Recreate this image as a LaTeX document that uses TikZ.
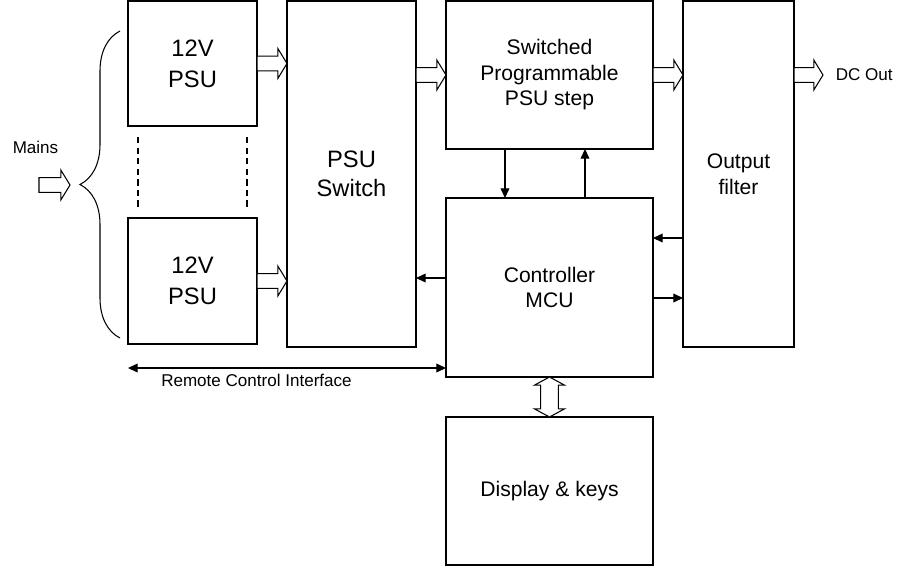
\documentclass[tikz,border=0pt]{standalone}
\usepackage{fontspec}
\setmainfont{Liberation Sans}
\usetikzlibrary{arrows.meta, positioning, calc, decorations.pathreplacing}

\newcommand{\fatarrow}[2]{%
  \draw[fatline] let \p1=(#1), \p2=(#2) in
    (\x1,\y1+4.2pt) -- (\x2-5.2pt,\y1+4.2pt) -- (\x2-5.2pt,\y1+8.5pt) -- (\x2,\y1)
    -- (\x2-5.2pt,\y1-8.5pt) -- (\x2-5.2pt,\y1-4.2pt) -- (\x1,\y1-4.2pt) -- cycle;}
\newcommand{\fatboth}[2]{%
  \draw[fatline] let \p1=(#1), \p2=(#2) in
    (\x1,\y1) -- (\x1+8.5pt,\y1-4.6pt) -- (\x1+5pt,\y1-4.6pt) -- (\x1+5pt,\y2+4.6pt)
    -- (\x1+8.5pt,\y2+4.6pt) -- (\x1,\y2) -- (\x1-8.5pt,\y2+4.6pt) -- (\x1-5pt,\y2+4.6pt)
    -- (\x1-5pt,\y1-4.6pt) -- (\x1-8.5pt,\y1-4.6pt) -- cycle;}

\begin{document}
\begin{tikzpicture}[>={Triangle[length=5.5pt, width=5pt]}, semithick,
    block/.style={draw, align=center, inner sep=0pt, outer sep=0pt, font=\fontsize{12}{14.5}\selectfont},
    psublock/.style={block, minimum width=2.58cm, font=\fontsize{13.5}{17.5}\selectfont},
    fatline/.style={fill=white, line join=miter},
    small/.style={font=\fontsize{9.7}{12}\selectfont}]
    \fill[white] (0,0) rectangle (18,-11.6);
    \useasboundingbox (0,0) rectangle (18,-11.6);

    \node[psublock, minimum height=2.5cm, anchor=north west] (psuA) at (2.56,-0.02) {12V\\PSU};
    \node[psublock, minimum height=2.52cm, below=1.84cm of psuA] (psuB) {12V\\PSU};
    \node[block, minimum width=2.58cm, minimum height=6.92cm, right=0.6cm of psuA.north east, anchor=north west,
          font=\fontsize{13.5}{16.5}\selectfont] (sw) {PSU\\Switch};
    \node[block, minimum width=4.14cm, minimum height=2.96cm, right=0.6cm of sw.north east, anchor=north west] (step) {Switched\\Programmable\\PSU step};
    \node[block, minimum width=4.14cm, minimum height=3.58cm, below=0.98cm of step] (mcu) {Controller\\MCU};
    \node[block, minimum width=4.14cm, minimum height=2.96cm, below=0.8cm of mcu] (disp) {Display \& keys};
    \node[block, minimum width=2.22cm, minimum height=6.92cm, right=0.6cm of step.north east, anchor=north west] (filt) {Output\\filter};

    \coordinate (mainsin) at (0.78,-3.7);
    \coordinate (bracetip) at (1.40,-3.7);
    \node[small] (mains) at (0.71,-2.94) {Mains};
    \coordinate (dcout) at ($(filt.east |- step.east)+(0.58,0)$);
    \node[small, right=0.13cm of dcout] (dctext) {DC Out};

    \draw[decorate, decoration={brace, amplitude=0.8cm}] (2.4,-6.76) -- (2.4,-0.62);
    \draw[dash pattern=on 3.6pt off 2.4pt] ([shift={(0.2,-0.22)}]psuA.south west) -- ([shift={(0.2,0.22)}]psuB.north west);
    \draw[dash pattern=on 3.6pt off 2.4pt] ([shift={(-0.2,-0.22)}]psuA.south east) -- ([shift={(-0.2,0.22)}]psuB.north east);

    \fatarrow{mainsin}{bracetip}
    \fatarrow{psuA.east}{psuA.east -| sw.west}
    \fatarrow{psuB.east}{psuB.east -| sw.west}
    \fatarrow{sw.east |- step.west}{step.west}
    \fatarrow{step.east}{step.east -| filt.west}
    \fatarrow{filt.east |- step.east}{dcout}
    \fatboth{mcu.south}{disp.north}

    \coordinate (mcusw) at ([yshift=-1.6cm]mcu.north west);
    \coordinate (mcufin) at ([yshift=-0.8cm]mcu.north east);
    \coordinate (mcufout) at ([yshift=-2cm]mcu.north east);
    \coordinate (rci) at ([yshift=0.18cm]mcu.south west);

    \draw[->] ([xshift=1.18cm]step.south west) -- ([xshift=1.18cm]mcu.north west);
    \draw[->] ([xshift=2.78cm]mcu.north west) -- ([xshift=2.78cm]step.south west);
    \draw[->] (mcusw) -- (mcusw -| sw.east);
    \draw[->] (mcufin -| filt.west) -- (mcufin);
    \draw[->] (mcufout) -- (mcufout -| filt.west);
    \draw[<->] (rci -| psuB.west) -- node[small, pos=0.404, below, inner sep=3pt] (rcitext) {Remote Control Interface} (rci);
\end{tikzpicture}
\end{document}
